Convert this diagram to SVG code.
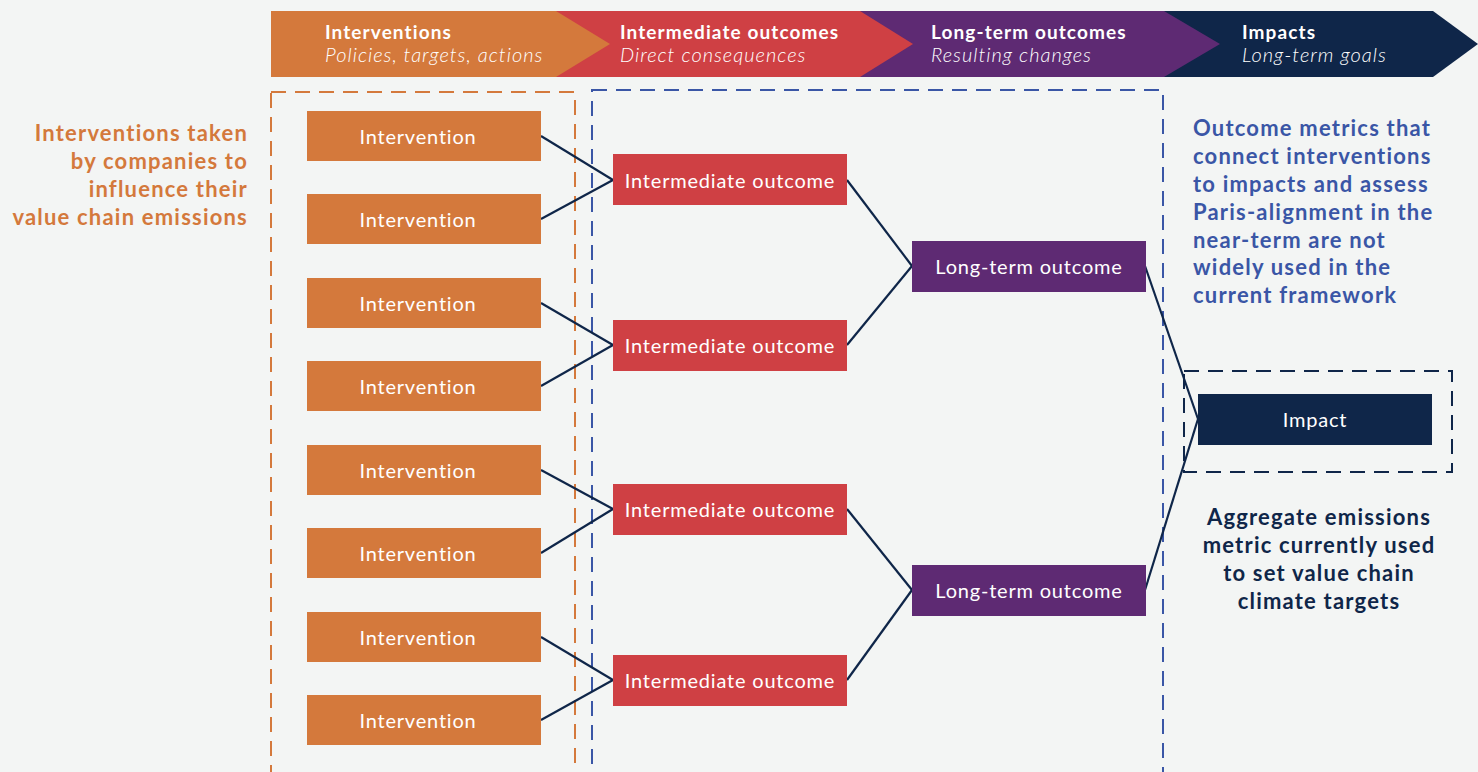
<svg xmlns="http://www.w3.org/2000/svg" width="1478" height="772" viewBox="0 0 1478 772">
  <style>
    .hdr-t { font-family: "Lato", "Liberation Sans", sans-serif; font-weight: 700; font-size: 19px; letter-spacing: 1.1px; fill: #ffffff; }
    .hdr-s { font-family: "Lato", "Liberation Sans", sans-serif; font-weight: 300; font-style: italic; font-size: 20px; letter-spacing: 1px; fill: #ffffff; }
    .box-t { font-family: "Lato", "Liberation Sans", sans-serif; font-size: 20px; letter-spacing: 0.8px; fill: #ffffff; text-anchor: middle; dominant-baseline: central; }
    .note { font-family: "Lato", "Liberation Sans", sans-serif; font-weight: 700; font-size: 22px; letter-spacing: 1.2px; }
    .n-or { fill: #d4793c; text-anchor: end; }
    .n-bl { fill: #3a56a6; }
    .n-nv { fill: #0f2649; text-anchor: middle; }
    .iv { fill: #d4793c; }
    .io { fill: #cf4044; }
    .lt { fill: #5e2a73; }
    .im { fill: #0f2649; }
    .conn { stroke: #0f2649; stroke-width: 2.2; fill: none; }
    .dash { fill: none; stroke-width: 2; stroke-dasharray: 15 9; }
  </style>
  <rect x="0" y="0" width="1478" height="772" fill="#f3f5f4"/>

  <!-- header chevron band -->
  <g id="header">
    <polygon points="1164,11 1433,11 1478,44 1433,77 1164,77" fill="#0f2649"/>
    <polygon points="860,11 1164,11 1220,44 1164,77 860,77" fill="#5e2a73"/>
    <polygon points="556,11 860,11 913,44 860,77 556,77" fill="#cf4044"/>
    <polygon points="271,11 556,11 610,44 556,77 271,77" fill="#d4793c"/>
    <text class="hdr-t" x="325" y="39">Interventions</text>
    <text class="hdr-s" x="325" y="62">Policies, targets, actions</text>
    <text class="hdr-t" x="620" y="39">Intermediate outcomes</text>
    <text class="hdr-s" x="620" y="62">Direct consequences</text>
    <text class="hdr-t" x="931" y="39">Long-term outcomes</text>
    <text class="hdr-s" x="931" y="62">Resulting changes</text>
    <text class="hdr-t" x="1242" y="39">Impacts</text>
    <text class="hdr-s" x="1242" y="62">Long-term goals</text>
  </g>

  <!-- dashed grouping frames -->
  <g id="frames">
    <rect class="dash" x="271" y="92" width="304" height="700" stroke="#d4793c"/>
    <rect class="dash" x="592" y="90" width="571" height="702" stroke="#3a56a6"/>
    <rect class="dash" x="1184" y="371" width="268" height="101" stroke="#0f2649"/>
  </g>

  <!-- annotations -->
  <g id="notes">
    <text class="note n-or" x="248" y="141">Interventions taken</text>
    <text class="note n-or" x="248" y="169">by companies to</text>
    <text class="note n-or" x="248" y="197">influence their</text>
    <text class="note n-or" x="248" y="225">value chain emissions</text>

    <text class="note n-bl" x="1193" y="136">Outcome metrics that</text>
    <text class="note n-bl" x="1193" y="164">connect interventions</text>
    <text class="note n-bl" x="1193" y="192">to impacts and assess</text>
    <text class="note n-bl" x="1193" y="220">Paris-alignment in the</text>
    <text class="note n-bl" x="1193" y="248">near-term are not</text>
    <text class="note n-bl" x="1193" y="275">widely used in the</text>
    <text class="note n-bl" x="1193" y="303">current framework</text>

    <text class="note n-nv" x="1319" y="525">Aggregate emissions</text>
    <text class="note n-nv" x="1319" y="553">metric currently used</text>
    <text class="note n-nv" x="1319" y="581">to set value chain</text>
    <text class="note n-nv" x="1319" y="609">climate targets</text>
  </g>

  <!-- connectors -->
  <g id="connectors">
    <line class="conn" x1="541" y1="136" x2="613" y2="180"/>
    <line class="conn" x1="541" y1="219" x2="613" y2="180"/>
    <line class="conn" x1="541" y1="303" x2="613" y2="345"/>
    <line class="conn" x1="541" y1="386" x2="613" y2="345"/>
    <line class="conn" x1="541" y1="470" x2="613" y2="509"/>
    <line class="conn" x1="541" y1="553" x2="613" y2="509"/>
    <line class="conn" x1="541" y1="637" x2="613" y2="680"/>
    <line class="conn" x1="541" y1="720" x2="613" y2="680"/>
    <line class="conn" x1="847" y1="180" x2="912" y2="266"/>
    <line class="conn" x1="847" y1="345" x2="912" y2="266"/>
    <line class="conn" x1="847" y1="509" x2="912" y2="590"/>
    <line class="conn" x1="847" y1="680" x2="912" y2="590"/>
    <line class="conn" x1="1145" y1="266" x2="1198" y2="419"/>
    <line class="conn" x1="1145" y1="590" x2="1198" y2="419"/>
  </g>

  <!-- interventions -->
  <g id="iv1"><rect class="iv" x="307" y="111" width="234" height="50"/><text class="box-t" x="418" y="136">Intervention</text></g>
  <g id="iv2"><rect class="iv" x="307" y="194" width="234" height="50"/><text class="box-t" x="418" y="219">Intervention</text></g>
  <g id="iv3"><rect class="iv" x="307" y="278" width="234" height="50"/><text class="box-t" x="418" y="303">Intervention</text></g>
  <g id="iv4"><rect class="iv" x="307" y="361" width="234" height="50"/><text class="box-t" x="418" y="386">Intervention</text></g>
  <g id="iv5"><rect class="iv" x="307" y="445" width="234" height="50"/><text class="box-t" x="418" y="470">Intervention</text></g>
  <g id="iv6"><rect class="iv" x="307" y="528" width="234" height="50"/><text class="box-t" x="418" y="553">Intervention</text></g>
  <g id="iv7"><rect class="iv" x="307" y="612" width="234" height="50"/><text class="box-t" x="418" y="637">Intervention</text></g>
  <g id="iv8"><rect class="iv" x="307" y="695" width="234" height="50"/><text class="box-t" x="418" y="720">Intervention</text></g>

  <!-- intermediate outcomes -->
  <g id="io1"><rect class="io" x="613" y="154" width="234" height="51"/><text class="box-t" x="730" y="180">Intermediate outcome</text></g>
  <g id="io2"><rect class="io" x="613" y="320" width="234" height="51"/><text class="box-t" x="730" y="345">Intermediate outcome</text></g>
  <g id="io3"><rect class="io" x="613" y="484" width="234" height="51"/><text class="box-t" x="730" y="509">Intermediate outcome</text></g>
  <g id="io4"><rect class="io" x="613" y="655" width="234" height="51"/><text class="box-t" x="730" y="680">Intermediate outcome</text></g>

  <!-- long-term outcomes -->
  <g id="lt1"><rect class="lt" x="912" y="241" width="234" height="51"/><text class="box-t" x="1029" y="266">Long-term outcome</text></g>
  <g id="lt2"><rect class="lt" x="912" y="565" width="234" height="51"/><text class="box-t" x="1029" y="590">Long-term outcome</text></g>

  <!-- impact -->
  <g id="impact"><rect class="im" x="1198" y="394" width="234" height="51"/><text class="box-t" x="1315" y="419">Impact</text></g>
</svg>
